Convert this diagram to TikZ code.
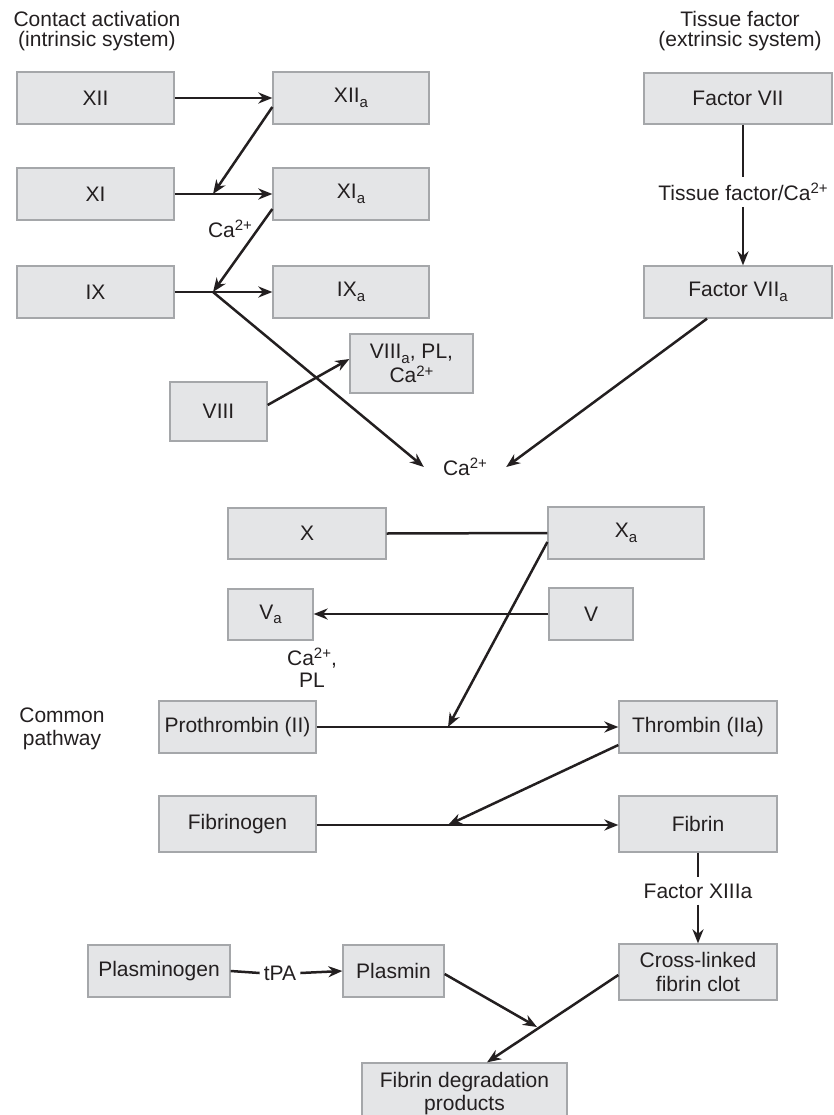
\documentclass[tikz,border=0pt]{standalone}
\usepackage{fontspec}
\setmainfont{Liberation Sans}
\usetikzlibrary{arrows.meta,calc}
\definecolor{boxfill}{HTML}{E4E5E7}
\definecolor{boxline}{HTML}{A5A7AA}
\definecolor{ink}{HTML}{231F20}
\newcommand{\supr}[1]{\raisebox{6.5pt}{\fontsize{15}{15}\selectfont #1}}
\newcommand{\subr}[1]{\raisebox{-4.5pt}{\fontsize{15}{15}\selectfont #1}}
\begin{document}
\begin{tikzpicture}[x=1pt,y=-1pt,
  every node/.style={font=\fontsize{21}{24}\selectfont, text=ink},
  box/.style={draw=boxline, fill=boxfill, line width=1.3pt, inner sep=0pt, align=center},
  lbl/.style={inner sep=0pt, align=center},
  arr/.style={draw=ink, line width=2.5pt, -{Stealth[length=14pt,width=11pt,inset=4.5pt]}},
  ln/.style={draw=ink, line width=2.5pt}]
\useasboundingbox (0,0) rectangle (833,1115);

% titles
\node[lbl, font=\fontsize{21}{20}\selectfont] (intr) at (97,31) {Contact activation\\(intrinsic system)};
\node[lbl, font=\fontsize{21}{20}\selectfont] (extr) at (740,31) {Tissue factor\\(extrinsic system)};
\node[lbl, font=\fontsize{21}{23}\selectfont] (common) at (62,729) {Common\\pathway};

% intrinsic
\node[box, minimum width=157pt, minimum height=52pt] (XII) at (95.5,98) {XII};
\node[box, minimum width=156pt, minimum height=52pt] (XIIa) at (351,98) {XII\subr{a}};
\node[box, minimum width=157pt, minimum height=52pt] (XI) at (95.5,194) {XI};
\node[box, minimum width=156pt, minimum height=52pt] (XIa) at (351,194) {XI\subr{a}};
\node[box, minimum width=157pt, minimum height=52pt] (IX) at (95.5,292) {IX};
\node[box, minimum width=156pt, minimum height=52pt] (IXa) at (351,292) {IX\subr{a}};
\node[box, minimum width=123pt, minimum height=59pt] (VIIIa) at (411.5,363.5) {VIII\subr{a}, PL,\\Ca\supr{2+}};
\node[box, minimum width=97pt, minimum height=59pt] (VIII) at (218.5,411.5) {VIII};
\node[lbl] (ca1) at (230,229) {Ca\supr{2+}};

% extrinsic
\node[box, minimum width=188pt, minimum height=51pt] (FVII) at (738,98.5) {Factor VII};
\node[box, minimum width=188pt, minimum height=52pt] (FVIIa) at (738,292) {Factor VII\subr{a}};
\node[lbl, inner ysep=6pt] (tfl) at (743,192) {Tissue factor/Ca\supr{2+}};

\node[lbl, inner xsep=19pt] (ca) at (465,467) {Ca\supr{2+}};

% common pathway
\node[box, minimum width=158pt, minimum height=51pt] (X) at (307,533.5) {X};
\node[box, minimum width=156pt, minimum height=52pt] (Xa) at (626,533) {X\subr{a}};
\node[box, minimum width=85pt, minimum height=51pt] (Va) at (270.5,614.5) {V\subr{a}};
\node[box, minimum width=84pt, minimum height=52pt] (V) at (591,614) {V};
\node[lbl, font=\fontsize{21}{22}\selectfont] (capl) at (312,668) {Ca\supr{2+},\\PL};
\node[box, minimum width=157pt, minimum height=52pt] (Pro) at (237.5,727) {Prothrombin (II)};
\node[box, minimum width=158pt, minimum height=52pt] (Thr) at (698,727) {Thrombin (IIa)};
\node[box, minimum width=157pt, minimum height=56pt] (Fgn) at (237.5,824) {Fibrinogen};
\node[box, minimum width=158pt, minimum height=56pt] (Fib) at (698,824) {Fibrin};
\node[lbl, inner ysep=6pt] (x13) at (698,891) {Factor XIIIa};
\node[box, minimum width=158pt, minimum height=56pt] (Cross) at (698,972) {Cross-linked\\fibrin clot};
\node[box, minimum width=142pt, minimum height=52pt] (Plg) at (159,971) {Plasminogen};
\node[lbl, inner xsep=4pt] (tpa) at (280,973) {tPA};
\node[box, minimum width=101pt, minimum height=52pt] (Pls) at (393.5,971) {Plasmin};
\node[box, minimum width=205pt, minimum height=62pt, font=\fontsize{21}{23}\selectfont] (FDP) at (464.5,1094) {Fibrin degradation\\products};

% junctions
\coordinate (j1) at (213,194);
\coordinate (j2) at (213,292);
\coordinate (j3) at (448,727);
\coordinate (j4) at (448,825);
\coordinate (j5) at (537,1027);

% connectors
\draw[arr] (XII.east) -- (XIIa.west);
\draw[arr] ($(XIIa.west)+(0,9)$) -- (j1);
\draw[arr] (XI.east) -- (XIa.west);
\draw[arr] ($(XIa.west)+(0,15)$) -- (j2);
\draw[arr] (IX.east) -- (IXa.west);
\draw[arr] (j2) -- (ca.west);
\draw[arr] ($(VIII.east)+(0,-6.5)$) -- ($(VIIIa.west)+(0,-4.5)$);
\draw[ln] (tfl.north |- FVII.south) -- (tfl.north);
\draw[arr] (tfl.south) -- (tfl.south |- FVIIa.north);
\draw[arr] ($(FVIIa.south)+(-31,0)$) -- (ca.east);
\draw[ln] (X.east) -- (Xa.west);
\draw[arr] ($(Xa.west)+(0,9)$) -- (j3);
\draw[arr] (V.west) -- (V.west -| Va.east);
\draw[arr] (Pro.east) -- (Thr.west);
\draw[arr] ($(Thr.west)+(0,18)$) -- (j4);
\draw[arr] ($(Fgn.east)+(0,1)$) -- ($(Fib.west)+(0,1)$);
\draw[ln] (Fib.south) -- (x13.north);
\draw[arr] (x13.south) -- (Cross.north);
\draw[ln] (Plg.east) -- (tpa.west);
\draw[arr] (tpa.east) -- (Pls.west);
\draw[arr] ($(Pls.east)+(0,3)$) -- (j5);
\draw[arr] ($(Cross.west)+(0,3)$) -- ($(FDP.north)+(22.5,0)$);
\end{tikzpicture}
\end{document}
